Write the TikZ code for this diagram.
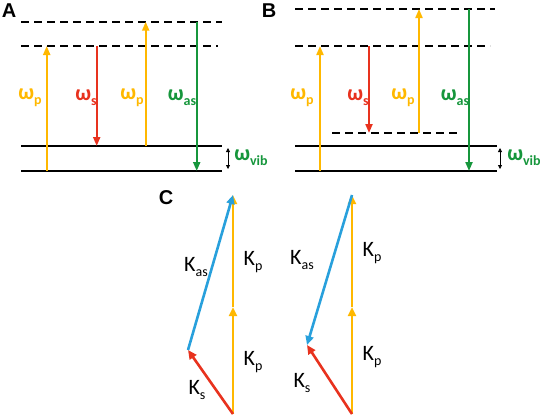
\documentclass[tikz,border=0pt]{standalone}
\usepackage{fontspec}
\setmainfont{Carlito}
\newfontfamily\panelfont{Liberation Sans}
\usetikzlibrary{arrows.meta}
\definecolor{cyel}{RGB}{255,184,0}
\definecolor{cred}{RGB}{232,50,30}
\definecolor{cgrn}{RGB}{22,150,60}
\definecolor{cblu}{RGB}{40,160,220}
\newcommand\mysub[2]{#1\raisebox{-0.45ex}{\fontsize{14}{14}\selectfont #2}}
\begin{document}
\begin{tikzpicture}[x=1pt,y=-1pt,
  lvl/.style={line width=2pt},
  virt/.style={line width=1.7pt, dash pattern=on 8pt off 5pt},
  tr/.style={line width=2pt,-{Triangle[length=9pt,width=7pt]}},
  ktr/.style={line width=2.6pt,-{Triangle[length=9pt,width=8pt]}},
  vib/.style={line width=0.8pt,{Triangle[length=4pt,width=4pt]}-{Triangle[length=4pt,width=4pt]}},
  wlab/.style={font=\fontsize{22}{22}\selectfont\bfseries, inner sep=0pt},
  klab/.style={font=\fontsize{22}{22}\selectfont, inner sep=0pt},
  panel/.style={font=\panelfont\fontsize{20}{20}\selectfont\bfseries, inner sep=0pt}]
\useasboundingbox (0,0) rectangle (540,416);

% ---------- Panel A ----------
\node[panel] (A) at (9,11) {A};
\coordinate (a1l) at (21,21.7); \coordinate (a1r) at (222,21.7);
\coordinate (a2l) at (21,46);   \coordinate (a2r) at (218,46);
\coordinate (a3l) at (21,146);  \coordinate (a3r) at (222,146);
\coordinate (a4l) at (21,171);  \coordinate (a4r) at (222,171);
\draw[virt] (a1l) -- (a1r);
\draw[virt] (a2l) -- (a2r);
\draw[lvl] (a3l) -- (a3r);
\draw[lvl] (a4l) -- (a4r);
\coordinate (ap1b) at (46.7,171); \coordinate (ap1t) at (46.7,46);
\coordinate (asb) at (96.7,46);   \coordinate (ase) at (96.7,146);
\coordinate (ap2b) at (145.7,146); \coordinate (ap2t) at (145.7,21.7);
\coordinate (aasb) at (196.7,21.7); \coordinate (aase) at (196.7,171);
\draw[tr,cyel] (ap1b) -- (ap1t);
\draw[tr,cred] (asb) -- (ase);
\draw[tr,cyel] (ap2b) -- (ap2t);
\draw[tr,cgrn] (aasb) -- (aase);
\coordinate (avb) at (228,148); \coordinate (avt) at (228,169);
\draw[vib] (avb) -- (avt);
\node[wlab,cyel] (alp1) at (30,98) {\mysub{ω}{p}};
\node[wlab,cred] (als) at (86,98) {\mysub{ω}{s}};
\node[wlab,cyel] (alp2) at (132,98) {\mysub{ω}{p}};
\node[wlab,cgrn] (alas) at (182,98) {\mysub{ω}{as}};
\node[wlab,cgrn] (alvib) at (251,158) {\mysub{ω}{vib}};

% ---------- Panel B ----------
\node[panel] (B) at (269,11) {B};
\coordinate (b1l) at (295,9);   \coordinate (b1r) at (495,9);
\coordinate (b2l) at (295,46);  \coordinate (b2r) at (490,46);
\coordinate (b5l) at (332,133); \coordinate (b5r) at (458,133);
\coordinate (b3l) at (295,146); \coordinate (b3r) at (497,146);
\coordinate (b4l) at (295,171); \coordinate (b4r) at (497,171);
\draw[virt] (b1l) -- (b1r);
\draw[virt] (b2l) -- (b2r);
\draw[virt] (b5l) -- (b5r);
\draw[lvl] (b3l) -- (b3r);
\draw[lvl] (b4l) -- (b4r);
\coordinate (bp1b) at (320,171); \coordinate (bp1t) at (320,46);
\coordinate (bsb) at (369,46);   \coordinate (bse) at (369,133);
\coordinate (bp2b) at (419,133); \coordinate (bp2t) at (419,9);
\coordinate (basb) at (469,9);   \coordinate (base) at (469,171);
\draw[tr,cyel] (bp1b) -- (bp1t);
\draw[tr,cred] (bsb) -- (bse);
\draw[tr,cyel] (bp2b) -- (bp2t);
\draw[tr,cgrn] (basb) -- (base);
\coordinate (bvb) at (500,148); \coordinate (bvt) at (500,169);
\draw[vib] (bvb) -- (bvt);
\node[wlab,cyel] (blp1) at (302,98) {\mysub{ω}{p}};
\node[wlab,cred] (bls) at (358,98) {\mysub{ω}{s}};
\node[wlab,cyel] (blp2) at (403,98) {\mysub{ω}{p}};
\node[wlab,cgrn] (blas) at (455,98) {\mysub{ω}{as}};
\node[wlab,cgrn] (blvib) at (524,158) {\mysub{ω}{vib}};

% ---------- Panel C ----------
\node[panel] (C) at (166,198) {C};
% left triangle
\coordinate (l0) at (233,414); \coordinate (lm) at (233,307); \coordinate (lt) at (233,195);
\coordinate (ls) at (188,350);
\draw[ktr,cyel] (l0) -- (lm);
\draw[ktr,cyel] (lm) -- (lt);
\draw[ktr,cred] (l0) -- (ls);
\draw[ktr,cblu] (ls) -- (lt);
\node[klab] (lkas) at (196,267) {\mysub{K}{as}};
\node[klab] (lkp1) at (253,262) {\mysub{K}{p}};
\node[klab] (lkp2) at (253,362) {\mysub{K}{p}};
\node[klab] (lks) at (197,390) {\mysub{K}{s}};
% right triangle
\coordinate (r0) at (352,414); \coordinate (rm) at (352,307); \coordinate (rt) at (352,195);
\coordinate (rs) at (307,345);
\draw[ktr,cyel] (r0) -- (rm);
\draw[ktr,cyel] (rm) -- (rt);
\draw[ktr,cred] (r0) -- (rs);
\draw[ktr,cblu] (rt) -- (rs);
\node[klab] (rkas) at (302,260) {\mysub{K}{as}};
\node[klab] (rkp1) at (372,253) {\mysub{K}{p}};
\node[klab] (rkp2) at (372,357) {\mysub{K}{p}};
\node[klab] (rks) at (302,383) {\mysub{K}{s}};
\end{tikzpicture}
\end{document}
